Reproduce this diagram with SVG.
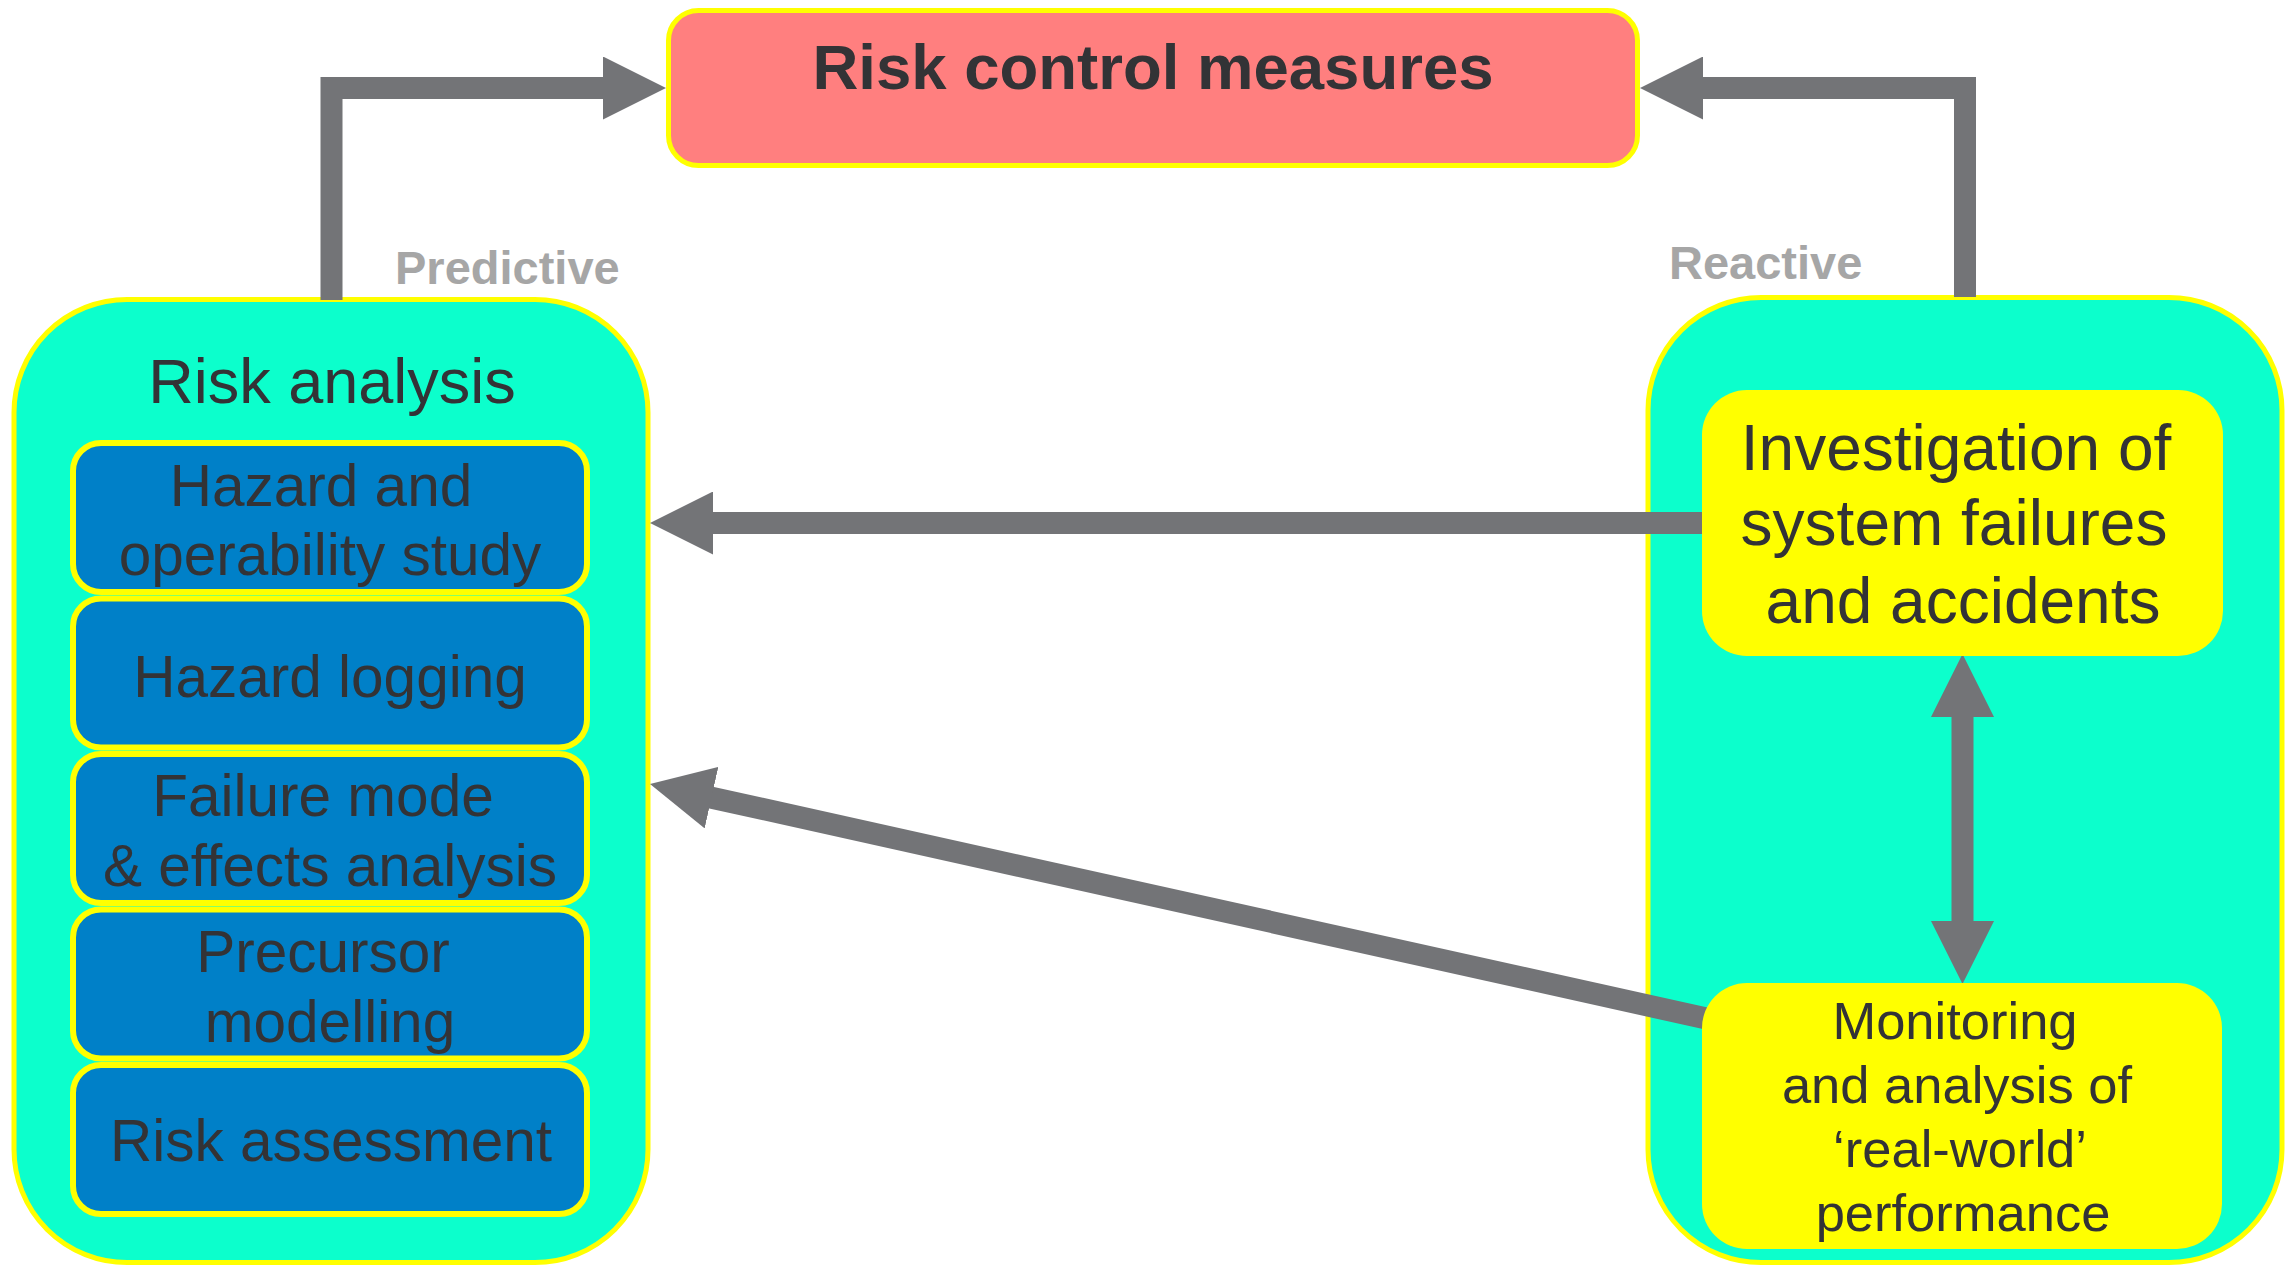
<svg xmlns="http://www.w3.org/2000/svg" width="2292" height="1268" viewBox="0 0 2292 1268">
  <style>
    .txt { font-family: "Liberation Sans", Arial, sans-serif; fill: #333336; text-anchor: middle; }
    .bold { font-weight: bold; }
    .label { font-family: "Liberation Sans", Arial, sans-serif; font-weight: bold; fill: #A6A6A6; font-size: 47px; }
    .group { fill: #0CFFCC; stroke: #FFFF00; stroke-width: 5; }
    .method { fill: #0080C8; stroke: #FFFF00; stroke-width: 6; }
    .source { fill: #FFFF00; }
    .conn { fill: none; stroke: #737477; stroke-width: 22; stroke-linejoin: miter; }
  </style>
  <defs>
    <marker id="head" markerUnits="userSpaceOnUse" viewBox="0 0 63 63" refX="8" refY="31.5" markerWidth="63" markerHeight="63" orient="auto-start-reverse">
      <path d="M0,0 L63,31.5 L0,63 Z" fill="#737477"/>
    </marker>
  </defs>

  <rect width="2292" height="1268" fill="#FFFFFF"/>

  <!-- Risk control measures -->
  <g id="risk-control">
    <rect x="668.5" y="10.5" width="969" height="155" rx="30" ry="30" fill="#FF7F7F" stroke="#FFFF00" stroke-width="5"/>
    <text class="txt bold" x="1153" y="89" font-size="63.5">Risk control measures</text>
  </g>

  <!-- Predictive side: risk analysis -->
  <g id="risk-analysis">
    <rect class="group" x="14" y="299.5" width="634" height="963" rx="113" ry="113"/>
    <text class="txt" x="332" y="403" font-size="63">Risk analysis</text>
  </g>
  <g id="hazop">
    <rect class="method" x="73" y="443" width="514" height="149" rx="28" ry="28"/>
    <text class="txt" font-size="58.5"><tspan x="321" y="506">Hazard and</tspan><tspan x="330" y="575">operability study</tspan></text>
  </g>
  <g id="hazard-logging">
    <rect class="method" x="73" y="598.5" width="514" height="149" rx="28" ry="28"/>
    <text class="txt" x="330" y="697" font-size="58.5">Hazard logging</text>
  </g>
  <g id="fmea">
    <rect class="method" x="73" y="754" width="514" height="149" rx="28" ry="28"/>
    <text class="txt" font-size="58.5"><tspan x="323" y="816">Failure mode</tspan><tspan x="330" y="886">&amp; effects analysis</tspan></text>
  </g>
  <g id="precursor">
    <rect class="method" x="73" y="909.5" width="514" height="149" rx="28" ry="28"/>
    <text class="txt" font-size="58.5"><tspan x="323" y="972">Precursor</tspan><tspan x="330" y="1042">modelling</tspan></text>
  </g>
  <g id="risk-assessment">
    <rect class="method" x="73" y="1065" width="514" height="149" rx="28" ry="28"/>
    <text class="txt" x="331" y="1161" font-size="58.5">Risk assessment</text>
  </g>

  <!-- Reactive side -->
  <g id="reactive-group">
    <rect class="group" x="1648" y="297.5" width="634" height="965" rx="113" ry="113"/>
  </g>

  <!-- Connectors -->
  <g id="connectors">
    <path class="conn" d="M331.5,300 V88 H611" marker-end="url(#head)"/>
    <path class="conn" d="M1965,297 V88 H1695" marker-end="url(#head)"/>
    <path class="conn" d="M1706,523 H705" marker-end="url(#head)"/>
    <path class="conn" d="M1712,1019.8 L703.7,795.9" marker-end="url(#head)"/>
    <path class="conn" d="M1962.5,709 V929" marker-start="url(#head)" marker-end="url(#head)"/>
  </g>

  <g id="investigation">
    <rect class="source" x="1702" y="390" width="521" height="266" rx="45" ry="45"/>
    <text class="txt" font-size="64"><tspan x="1956" y="470">Investigation of</tspan><tspan x="1954" y="545">system failures</tspan><tspan x="1963" y="623">and accidents</tspan></text>
  </g>
  <g id="monitoring">
    <rect class="source" x="1702" y="983" width="520" height="266" rx="45" ry="45"/>
    <text class="txt" font-size="52.5"><tspan x="1955" y="1039">Monitoring</tspan><tspan x="1957" y="1103">and analysis of</tspan><tspan x="1960" y="1167">‘real-world’</tspan><tspan x="1963" y="1231">performance</tspan></text>
  </g>

  <!-- Connector labels -->
  <text class="label" x="395" y="284">Predictive</text>
  <text class="label" x="1669" y="279">Reactive</text>
</svg>
